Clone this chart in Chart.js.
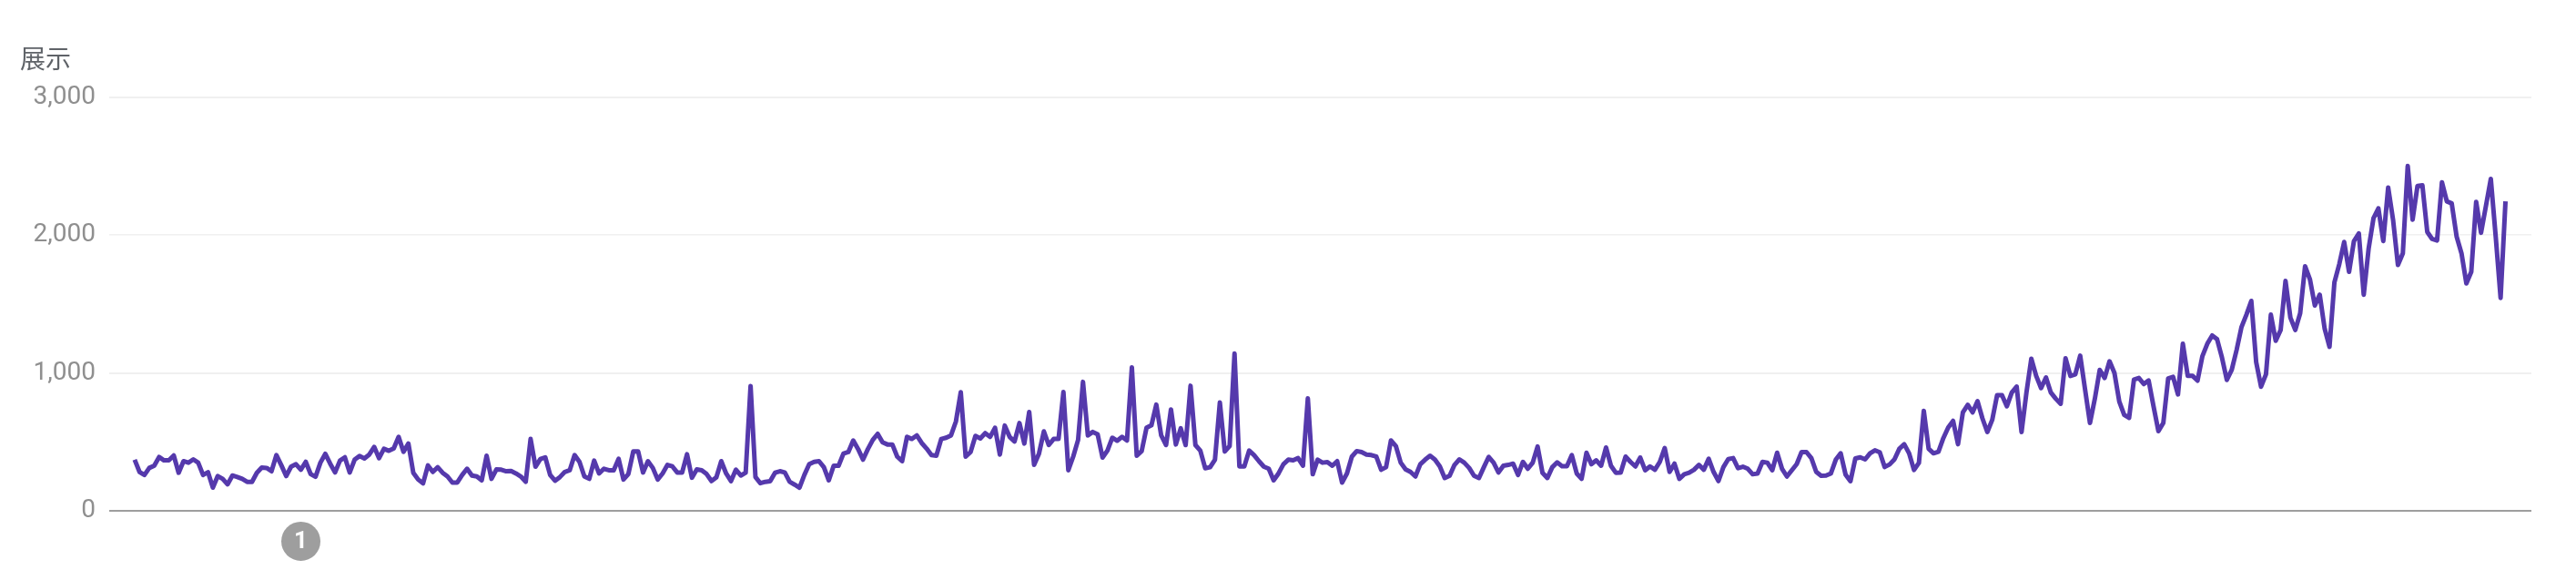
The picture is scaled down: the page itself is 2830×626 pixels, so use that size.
<!DOCTYPE html>
<html>
<head>
<meta charset="utf-8">
<style>html,body{margin:0;padding:0;background:#fff}canvas{display:block;filter:blur(0.6px)}</style>
<script src="https://cdn.jsdelivr.net/npm/chart.js@4"></script>
</head>
<body>
<canvas id="c" width="2830" height="626"></canvas>
<script>
const yTickValues = [0, 1000, 2000, 3000];
const yTitle = "展示";
const seriesName = "展示";
const impressions = [
371,282,260,311,327,390,366,366,401,276,360,349,373,349,260,280,168,252,232,192,
256,245,232,210,210,276,313,311,287,404,331,252,320,338,298,355,267,247,349,413,
342,278,364,388,278,371,397,380,408,463,382,450,435,452,536,428,488,276,227,199,
329,282,316,276,249,205,205,260,305,256,249,221,399,232,300,298,287,289,271,249,
210,521,320,375,388,260,218,245,282,294,404,355,249,232,364,271,305,294,294,377,
227,267,430,430,278,360,311,227,271,333,322,278,278,410,240,300,294,267,216,243,
360,271,216,298,256,276,905,245,200,210,214,276,287,278,210,190,168,260,338,355,
360,316,221,327,327,415,426,510,448,371,448,514,558,497,481,481,393,360,536,521,
547,492,452,404,399,521,530,547,647,860,393,426,543,525,563,536,602,408,618,536,
503,636,488,717,333,415,576,477,521,521,861,294,393,514,935,547,572,554,386,437,
530,508,536,510,1040,399,433,602,620,770,547,477,735,481,598,477,907,477,437,309,
316,371,786,430,470,1140,322,322,437,404,360,320,305,221,271,338,371,366,382,327,
815,265,371,349,353,327,360,205,271,393,433,426,408,404,393,298,316,510,470,349,
300,282,249,338,371,399,371,322,238,254,333,373,349,311,254,238,316,391,349,278,
327,333,342,260,355,305,349,466,276,238,316,351,324,324,404,271,232,421,338,366,
327,459,327,276,278,393,355,322,386,294,322,298,355,455,282,342,232,265,276,298,
333,298,377,282,216,316,375,382,309,320,305,265,271,355,349,294,421,305,249,294,
338,426,426,382,282,254,256,271,371,417,263,215,380,388,373,417,439,424,318,336,
373,450,483,417,296,347,725,450,417,428,527,604,652,483,714,769,714,795,670,571,
659,839,839,758,857,901,571,857,1103,978,890,967,857,813,776,1106,978,989,1125,879,
637,813,1022,963,1084,1000,791,696,674,952,963,919,945,758,578,637,960,971,844,1211,
978,978,944,1122,1211,1271,1244,1111,949,1022,1167,1333,1422,1522,1078,900,989,1422,1233,1311,
1667,1400,1311,1433,1773,1678,1489,1567,1322,1189,1656,1789,1949,1733,1956,2011,1567,1900,2122,2193,
1956,2344,2111,1782,1867,2500,2111,2356,2360,2022,1971,1960,2382,2244,2229,1989,1867,1649,1733,2240,
2016,2211,2407,1989,1544,2244
];
const days = impressions.map((_, i) => i);
const annotationDay = [34];
const annotationLevel = [-221];
const annotationText = ["1"];

const annotationBadge = {
  id: "annotationBadge",
  afterDatasetsDraw(chart) {
    const xs = chart.scales.x, ys = chart.scales.y;
    const ctx = chart.ctx;
    ctx.save();
    annotationDay.forEach((d, i) => {
      const px = xs.getPixelForValue(d), py = ys.getPixelForValue(annotationLevel[i]);
      ctx.fillStyle = "#9e9e9e";
      ctx.beginPath();
      ctx.arc(px, py, 21.5, 0, Math.PI * 2);
      ctx.fill();
      ctx.fillStyle = "#ffffff";
      ctx.font = "700 26px Roboto";
      ctx.textAlign = "center";
      ctx.textBaseline = "middle";
      ctx.fillText(annotationText[i], px, py + 1);
    });
    ctx.restore();
  }
};

new Chart(document.getElementById("c"), {
  type: "line",
  data: {
    datasets: [
      {
        label: seriesName,
        data: days.map((d, i) => ({ x: d, y: impressions[i] })),
        borderColor: "#5539ac",
        borderWidth: 5,
        pointRadius: 0,
        tension: 0,
        fill: false,
        borderJoinStyle: "round",
        clip: false
      }
    ]
  },
  options: {
    responsive: false,
    animation: false,
    events: [],
    layout: { padding: { left: 22, right: 49, top: 48, bottom: 65 } },
    plugins: {
      legend: { display: false },
      tooltip: { enabled: false },
      title: {
        display: true,
        text: yTitle,
        align: "start",
        color: "#5f6368",
        font: { family: "'Noto Sans CJK SC'", size: 28, weight: "normal" },
        padding: { top: 0, bottom: 25 }
      }
    },
    scales: {
      x: { type: "linear", display: false, min: -5.2, max: 490.3 },
      y: {
        min: 0,
        max: 3000,
        afterBuildTicks(axis) { axis.ticks = yTickValues.map(v => ({ value: v })); },
        afterFit(axis) { axis.width = 98; },
        border: { display: false },
        grid: {
          drawTicks: false,
          color: ctx => ctx.tick && ctx.tick.value === 0 ? "#9e9e9e" : "#f0f0f0",
          lineWidth: ctx => ctx.tick && ctx.tick.value === 2000 ? 1.5 : 2
        },
        ticks: {
          padding: 15,
          color: "#8f8f8f",
          font: { family: "Roboto", size: 28 },
          callback: v => Number(v).toLocaleString("en-US")
        }
      }
    }
  },
  plugins: [annotationBadge]
});
</script>
</body>
</html>
